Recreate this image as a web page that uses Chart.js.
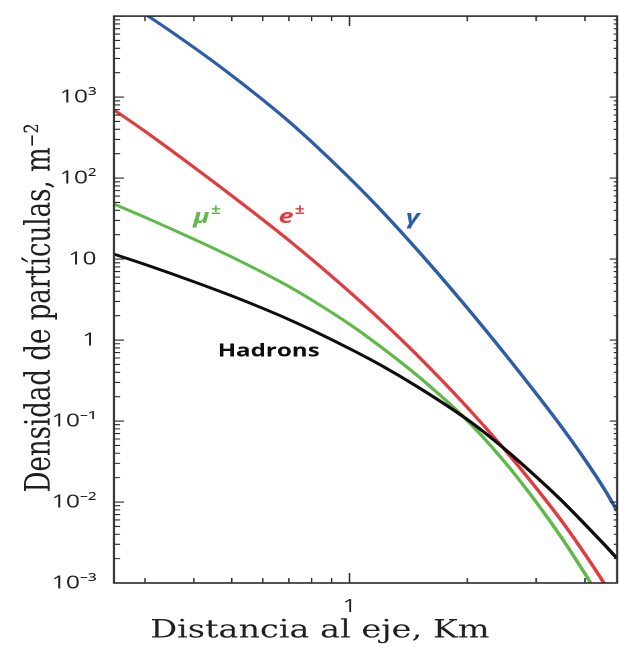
<!DOCTYPE html>
<html><head><meta charset="utf-8">
<script src="https://cdn.jsdelivr.net/npm/chart.js@4.4.1/dist/chart.umd.min.js"></script>
<style>
html,body{margin:0;padding:0;background:#fff;overflow:hidden}
#wrap{width:462px;height:648px;transform:scaleX(1.34);transform-origin:0 0}
</style></head><body>
<div id="wrap"><canvas id="c" width="462" height="648"></canvas></div>
<script>
// Distance to shower axis (km) and particle densities (m^-2)
const distanceKm      = [0.25, 0.3, 0.4, 0.5, 0.6, 0.7, 0.8, 1.0, 1.2, 1.5, 2.0, 2.5, 3.0, 3.5, 4.0, 4.5, 4.83];
const gammaDensity    = [18200, 10600, 4090, 1848, 925, 499, 280, 100, 40.7, 12.5, 2.49, 0.667, 0.218, 0.082, 0.0332, 0.01396, 0.00778];
const electronDensity = [695, 378, 136.5, 60.5, 30.7, 17.0, 9.95, 3.93, 1.772, 0.627, 0.1474, 0.0436, 0.0149, 0.00568, 0.002265, 0.000953, 0.000548];
const muonDensity     = [47.7, 32.8, 17.6, 10.6, 6.82, 4.58, 3.13, 1.57, 0.83, 0.355, 0.101, 0.0307, 0.00998, 0.00351, 0.001298, 0.000516, 0.000354];
const hadronDensity   = [11.5, 8.58, 5.25, 3.51, 2.464, 1.792, 1.333, 0.784, 0.492, 0.2604, 0.1043, 0.0446, 0.0205, 0.0102, 0.00529, 0.002915, 0.002014];

const yTickValues = [1e-3, 1e-2, 1e-1, 1, 10, 100, 1000];
const yTickLabels = ['10⁻³', '10⁻²', '10⁻¹', '1', '10', '10²', '10³'];
const xTickValues = [1];
const xTickLabels = ['1'];

const BLUE = '#2d5ca6', RED = '#e23b3f', GREEN = '#5fb948', BLACK = '#0d0d0d';

// Curve annotations (in data coordinates)
const labelTexts  = ['μ', 'e', 'γ', 'Hadrons'];
const labelSups   = ['±', '±', '', ''];
const labelX      = [0.432, 0.711, 1.45, 0.621];
const labelY      = [33, 33, 32, 0.726];
const labelColors = [GREEN, RED, BLUE, BLACK];

const pts = arr => distanceKm.map((d, i) => ({x: d, y: arr[i]}));

const frameTicks = {
  id: 'frameTicks',
  afterDatasetsDraw(chart) {
    const {ctx, chartArea: a, scales: {x, y}} = chart;
    ctx.save();
    ctx.strokeStyle = '#2b2b2b';
    ctx.lineWidth = 1.1;
    ctx.beginPath();
    for (let n = -1; n <= 0; n++) for (let k = 1; k <= 9; k++) {
      const v = k * Math.pow(10, n);
      if (v < x.min || v > x.max) continue;
      const p = x.getPixelForValue(v);
      const L = k === 1 ? 10 : 5;
      ctx.moveTo(p, a.bottom); ctx.lineTo(p, a.bottom - L);
      ctx.moveTo(p, a.top); ctx.lineTo(p, a.top + L);
    }
    for (let n = -3; n <= 4; n++) for (let k = 1; k <= 9; k++) {
      const v = k * Math.pow(10, n);
      if (v < y.min || v > y.max) continue;
      const p = y.getPixelForValue(v);
      const Ll = k === 1 ? 7.5 : 4.5;
      const Lr = k === 1 ? 5.6 : 2.6;
      ctx.moveTo(a.left, p); ctx.lineTo(a.left + Ll, p);
      ctx.moveTo(a.right, p); ctx.lineTo(a.right - Lr, p);
    }
    ctx.stroke();
    ctx.lineWidth = 1.6;
    ctx.strokeRect(a.left, a.top, a.right - a.left, a.bottom - a.top);
    ctx.restore();
  },
  afterDraw(chart) {
    const {ctx, scales: {x, y}} = chart;
    ctx.save();
    ctx.textBaseline = 'middle';
    ctx.textAlign = 'left';
    labelTexts.forEach((t, i) => {
      const px = x.getPixelForValue(labelX[i]);
      const py = y.getPixelForValue(labelY[i]);
      const isName = t.length > 1;
      const mainFont = isName ? 'bold 18px "Open Sans"' : 'italic bold 20px "Open Sans"';
      const supFont = 'bold 13px "Open Sans"';
      ctx.font = mainFont;
      const w1 = ctx.measureText(t).width;
      ctx.font = supFont;
      const w2 = labelSups[i] ? ctx.measureText(labelSups[i]).width + 1 : 0;
      const x0 = px - (w1 + w2) / 2;
      ctx.fillStyle = labelColors[i];
      ctx.font = mainFont;
      ctx.fillText(t, x0, py);
      if (labelSups[i]) {
        ctx.font = supFont;
        ctx.fillText(labelSups[i], x0 + w1 + 1, py - 7);
      }
    });
    ctx.restore();
  }
};

const ds = (label, data, color) => ({
  label, data: pts(data), borderColor: color, backgroundColor: color,
  borderWidth: 2.8, pointRadius: 0, fill: false, cubicInterpolationMode: 'monotone'
});

new Chart(document.getElementById('c'), {
  type: 'line',
  data: {
    datasets: [
      ds('Hadrons', hadronDensity, BLACK),
      ds('μ±', muonDensity, GREEN),
      ds('e±', electronDensity, RED),
      ds('γ', gammaDensity, BLUE)
    ]
  },
  options: {
    responsive: false,
    devicePixelRatio: 2,
    animation: false,
    layout: {padding: {left: 17, right: 1.5, top: 8, bottom: 0}},
    plugins: {
      legend: {display: false},
      tooltip: {enabled: false},
      title: {
        display: true, position: 'bottom', text: 'Distancia al eje, Km',
        color: '#1e1e1e',
        font: {family: '"DejaVu Serif"', size: 25, weight: 'normal', lineHeight: 1.2},
        padding: {top: 3, bottom: 2}
      }
    },
    scales: {
      x: {
        type: 'logarithmic', position: 'bottom', min: 0.25, max: 4.83,
        afterFit: s => { s.height = 30; },
        afterBuildTicks: s => { s.ticks = xTickValues.map(v => ({value: v})); },
        ticks: {
          callback: (v, i) => xTickLabels[i],
          color: '#1e1e1e', padding: 5, maxRotation: 0, autoSkip: false,
          font: {family: '"Open Sans"', size: 18}
        },
        grid: {display: false}, border: {display: false}
      },
      y: {
        type: 'logarithmic', position: 'left', min: 1e-3, max: 1e4,
        afterFit: s => { s.width = 68.1; },
        afterBuildTicks: s => { s.ticks = yTickValues.map(v => ({value: v})); },
        ticks: {
          callback: (v, i) => yTickLabels[i],
          color: '#1e1e1e', padding: 5, autoSkip: false,
          font: {family: '"Open Sans"', size: 18.5}
        },
        title: {
          display: true, text: 'Densidad de partículas, m⁻²  ', color: '#1e1e1e',
          font: {family: '"DejaVu Serif"', size: 26, weight: 'normal', lineHeight: 1},
          padding: {top: 0, bottom: 0}
        },
        grid: {display: false}, border: {display: false}
      }
    }
  },
  plugins: [frameTicks]
});
</script>
</body></html>
